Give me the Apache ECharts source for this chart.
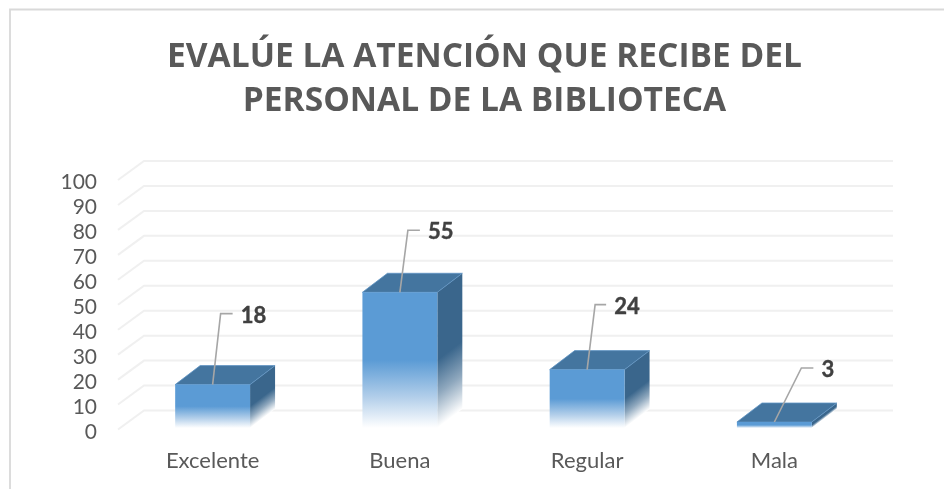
<!DOCTYPE html>
<html><head><meta charset="utf-8">
<style>html,body{margin:0;padding:0;background:#fff}#c{width:944px;height:489px}</style>
<script src="https://cdn.jsdelivr.net/npm/echarts@6/dist/echarts.min.js"></script>
</head><body><div id="c"></div>
<script>
const titleLines = ['EVALÚE LA ATENCIÓN QUE RECIBE DEL', 'PERSONAL DE LA BIBLIOTECA'];
const categories = ['Excelente', 'Buena', 'Regular', 'Mala'];
const values = [18, 55, 24, 3];
const yTicks = [0, 10, 20, 30, 40, 50, 60, 70, 80, 90, 100];

// styling / layout (not data)
const FONT = 'Lato';
const DX = 25, DY = 19;
const leaderStyle = [
  {bend: [8, -71], end: [20, -71]},
  {bend: [8, -62], end: [20, -62]},
  {bend: [8, -65], end: [19, -65]},
  {bend: [27, -54], end: [39, -54]}
];
const FRONT = '#5b9bd5', TOP = '#44759f', SIDE = '#3a668c';

const chart = echarts.init(document.getElementById('c'), null, {renderer: 'canvas'});

function wallItem(params, api) {
  const cs = params.coordSys;
  const y = api.coord([0, api.value(0)])[1];
  const x0 = cs.x - 1, x1 = x0 + DX + 1, x2 = cs.x + cs.width + DX;
  return {type: 'polyline', silent: true,
    shape: {points: [[x0, y], [x1, y - DY], [x2, y - DY]]},
    style: {stroke: '#f0f0f0', lineWidth: 2, fill: null}};
}

function barItem(params, api) {
  const i = api.value(0), v = api.value(1);
  const p = api.coord([i, v]);
  const base = api.coord([i, 0])[1] - 1.5;
  const w = api.size([1, 0])[0] * 0.4;
  const l = p[0] - w / 2, r = p[0] + w / 2, t = p[1];
  const h = base - t;
  const mid = t + h * 0.5;
  const frontFill = new echarts.graphic.LinearGradient(0, mid, 0, base, [
    {offset: 0, color: FRONT}, {offset: 0.55, color: '#b3cfea'}, {offset: 1, color: '#ffffff'}], true);
  const nx = DY / Math.hypot(DX, DY), ny = DX / Math.hypot(DX, DY);
  const len = (base - mid) * ny;
  const sideFill = new echarts.graphic.LinearGradient(r, mid, r + nx * len, mid + ny * len, [
    {offset: 0, color: SIDE}, {offset: 0.5, color: '#8fa8be'}, {offset: 1, color: '#ffffff'}], true);
  const ls = leaderStyle[i];
  const ax = p[0], ay = t;
  const children = [
    {type: 'polygon', shape: {points: [[r, t], [r + DX, t - DY], [r + DX, base - DY], [r, base]]},
      style: {fill: sideFill}},
    {type: 'polygon', shape: {points: [[l, t], [l + DX, t - DY], [r + DX, t - DY], [r, t]]},
      style: {fill: TOP, stroke: '#5f94c4', lineWidth: 0.8}},
    {type: 'rect', shape: {x: l, y: t, width: w, height: h}, style: {fill: frontFill}},
    {type: 'polyline', shape: {points: [[ax, ay], [ax + ls.bend[0], ay + ls.bend[1]], [ax + ls.end[0], ay + ls.end[1]]]},
      style: {stroke: '#a6a6a6', lineWidth: 1.6, fill: null}},
    {type: 'text', style: {x: ax + ls.end[0] + 8, y: ay + ls.end[1] + 2, text: String(v),
      font: 'bold 22px ' + FONT, fill: '#404040', textAlign: 'left', textVerticalAlign: 'middle',
      stroke: '#404040', lineWidth: 0.4}}
  ];
  return {type: 'group', silent: true, children};
}

chart.setOption({
  animation: false,
  backgroundColor: '#fff',
  title: {
    text: titleLines.join('\n'), left: 479.5, top: 30, textAlign: 'center',
    textStyle: {fontFamily: 'Open Sans', fontWeight: 'bold', fontSize: 33.5, lineHeight: 44, color: '#595959'}
  },
  graphic: [{type: 'polyline', z: -1, silent: true, shape: {points: [[10, 489], [10, 9.5], [944, 9.5]]},
    style: {fill: 'none', stroke: '#d9d9d9', lineWidth: 1.8}}],
  grid: {left: 119, right: 76, top: 180, bottom: 59.5},
  xAxis: {type: 'category', data: categories, axisLine: {show: false}, axisTick: {show: false},
    splitLine: {show: false},
    axisLabel: {fontFamily: FONT, fontSize: 22, color: '#595959', margin: 20}},
  yAxis: {type: 'value', min: 0, max: 100, interval: 10, axisLine: {show: false}, axisTick: {show: false},
    splitLine: {show: false},
    axisLabel: {margin: 22, formatter: '{a|{value}}',
      rich: {a: {fontFamily: FONT, fontSize: 21, color: '#595959', padding: [5, 0, 0, 0]}}}},
  series: [
    {type: 'custom', name: 'wall', z: 1, data: yTicks.map(v => [v]), encode: {y: 0}, renderItem: wallItem, silent: true},
    {type: 'custom', name: 'bars', z: 2, data: values.map((v, i) => [i, v]), encode: {x: 0, y: 1}, renderItem: barItem, clip: false, silent: true}
  ]
});
</script></body></html>
